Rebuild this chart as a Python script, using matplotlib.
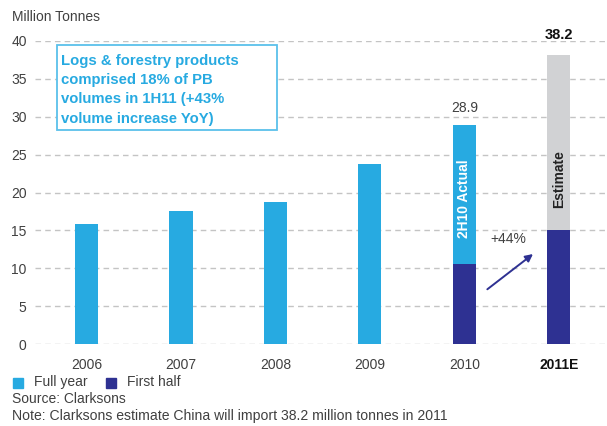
import numpy as np
import matplotlib.pyplot as plt
from matplotlib.patches import Rectangle

plt.rcParams['font.family'] = ['Liberation Sans', 'DejaVu Sans']

# China log & forestry imports, million tonnes
years = ['2006', '2007', '2008', '2009', '2010', '2011E']
full_year = [15.8, 17.6, 18.8, 23.8, 28.9, None]
first_half = [None, None, None, None, 10.6, 15.0]
estimate_total = 38.2

box_lines = ['Logs & forestry products', 'comprised 18% of PB',
             'volumes in 1H11 (+43%', 'volume increase YoY)']

LIGHT = '#27aae1'
DARK = '#2e3192'
GREY = '#d1d2d4'
TXT = '#404040'

W, H = 607, 426
fig = plt.figure(figsize=(W / 100, H / 100), dpi=100)
ax = fig.add_axes([35 / W, (H - 344) / H, 1 - 35 / W, (344 - 41) / H])


def fx(px):
    return px / W


def fy(py):
    return 1 - py / H


x = np.arange(len(years))
w = 0.245

for i, v in enumerate(full_year):
    if v is not None:
        ax.bar(x[i], v, w, color=LIGHT, zorder=3)
for i, v in enumerate(first_half):
    if v is not None:
        ax.bar(x[i], v, w, color=DARK, zorder=4)

# 2011 estimate sits on top of the first half figure
ax.bar(x[5], estimate_total - first_half[5], w, bottom=first_half[5], color=GREY, zorder=3)

ax.set_xlim(-0.545, 5.51)
ax.set_ylim(0, 40)
ax.set_yticks(range(0, 41, 5))
ax.yaxis.grid(True, linestyle=(0, (4, 3)), color='#c4c4c4', linewidth=1)
ax.set_axisbelow(True)
for s in ax.spines.values():
    s.set_visible(False)
ax.tick_params(length=0, labelsize=10, colors=TXT)
ax.tick_params(axis='y', pad=6)
ax.tick_params(axis='x', pad=10)
ax.set_xticks(x)
ax.set_xticklabels(years)
lbls = ax.get_xticklabels()
lbls[-1].set_fontweight('bold')
lbls[-1].set_color('#111111')

# value labels
ax.text(x[4], full_year[4] + 1.3, '28.9', ha='center', va='bottom', fontsize=10, color=TXT)
ax.text(x[5], estimate_total + 1.7, '38.2', ha='center', va='bottom', fontsize=10.5,
        fontweight='bold', color='#111111')

ax.text(x[4], 19.2, '2H10 Actual', rotation=90, ha='center', va='center', color='white',
        fontsize=10, fontweight='bold', zorder=5)
ax.text(x[5], 21.8, 'Estimate', rotation=90, ha='center', va='center', color='#222222',
        fontsize=10, fontweight='bold', zorder=5)

ax.text(4.47, 13.9, '+44%', ha='center', va='center', fontsize=10, color=TXT)
ax.annotate('', xy=(4.75, 12.1), xytext=(4.22, 7.0),
            arrowprops=dict(arrowstyle='-|>', color=DARK, lw=1.4, mutation_scale=11))

# callout box
fig.patches.append(Rectangle((fx(57), fy(130)), fx(277) - fx(57), fy(45) - fy(130),
                             transform=fig.transFigure, facecolor='white',
                             edgecolor='#5bc0eb', linewidth=1.3, zorder=5))
for k, line in enumerate(box_lines):
    fig.text(fx(61), fy(61 + 19.2 * k), line, ha='left', va='center', fontsize=10.7,
             fontweight='bold', color=LIGHT, zorder=6)

fig.text(fx(12), fy(17), 'Million Tonnes', ha='left', va='center', fontsize=10, color=TXT)

# legend and footnotes
fig.patches.append(Rectangle((fx(13), fy(388)), fx(10), 10 / H,
                             transform=fig.transFigure, color=LIGHT))
fig.text(fx(34), fy(382), 'Full year', ha='left', va='center', fontsize=10, color=TXT)
fig.patches.append(Rectangle((fx(106), fy(388)), fx(10), 10 / H,
                             transform=fig.transFigure, color=DARK))
fig.text(fx(127), fy(382), 'First half', ha='left', va='center', fontsize=10, color=TXT)
fig.text(fx(12), fy(399), 'Source: Clarksons', ha='left', va='center', fontsize=10, color=TXT)
fig.text(fx(12), fy(416), 'Note: Clarksons estimate China will import 38.2 million tonnes in 2011',
         ha='left', va='center', fontsize=10.1, color=TXT)

fig.savefig('out.png', dpi=100)
